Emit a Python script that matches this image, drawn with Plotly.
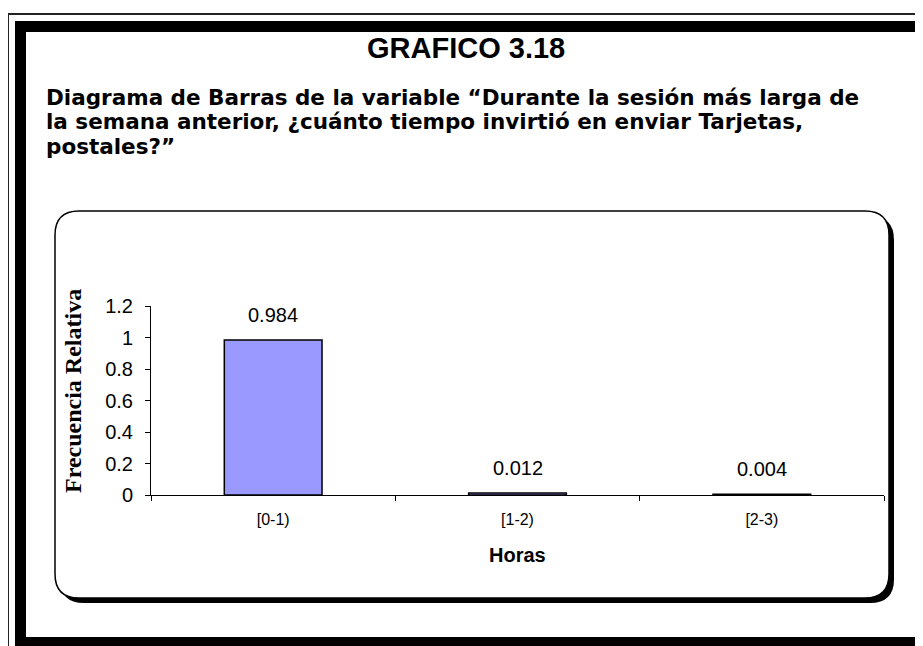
import plotly.graph_objects as go

# page body has an 8px margin, so the figure is laid out in page pixels minus 8
OFF = 8
W, H = 923 - OFF, 646 - OFF

categories = ["[0-1)", "[1-2)", "[2-3)"]
frecuencia = [0.984, 0.012, 0.004]
etiquetas = ["0.984", "0.012", "0.004"]
y_ticks = [0, 0.2, 0.4, 0.6, 0.8, 1.0, 1.2]
y_tick_text = ["0", "0.2", "0.4", "0.6", "0.8", "1", "1.2"]

titulo = "GRAFICO 3.18"
subtitulo = [
    "Diagrama de Barras de la variable “Durante la sesión más larga de",
    "la semana anterior, ¿cuánto tiempo invirtió en enviar Tarjetas,",
    "postales?”",
]


def px(x):
    return (x - OFF) / W


def py(y):
    return 1 - (y - OFF) / H


def rounded_rect(x0, y0, x1, y1, r):
    pts = [
        f"M {px(x0 + r)},{py(y0)}",
        f"L {px(x1 - r)},{py(y0)}",
        f"Q {px(x1)},{py(y0)} {px(x1)},{py(y0 + r)}",
        f"L {px(x1)},{py(y1 - r)}",
        f"Q {px(x1)},{py(y1)} {px(x1 - r)},{py(y1)}",
        f"L {px(x0 + r)},{py(y1)}",
        f"Q {px(x0)},{py(y1)} {px(x0)},{py(y1 - r)}",
        f"L {px(x0)},{py(y0 + r)}",
        f"Q {px(x0)},{py(y0)} {px(x0 + r)},{py(y0)}",
        "Z",
    ]
    return " ".join(pts)


ARIAL = "Arial, Liberation Sans, sans-serif"

fig = go.Figure()
fig.add_trace(go.Bar(
    x=categories, y=frecuencia, width=0.4,
    marker=dict(color="#9999FF", line=dict(color="black", width=1.5)),
    hoverinfo="x+y", showlegend=False,
))

shapes = [
    # outer frame, thin then thick
    dict(type="rect", xref="paper", yref="paper", x0=px(8), y0=py(14), x1=px(960), y1=py(680),
         line=dict(color="#222", width=2), layer="below"),
    dict(type="rect", xref="paper", yref="paper", x0=px(20.5), y0=py(26.5), x1=px(924.5), y1=py(642.5),
         line=dict(color="black", width=11), layer="below"),
    # chart area with shadow
    dict(type="path", xref="paper", yref="paper", path=rounded_rect(60, 216, 894, 603, 24),
         fillcolor="black", line=dict(color="black", width=0), layer="below"),
    dict(type="path", xref="paper", yref="paper", path=rounded_rect(55, 211, 889, 598, 24),
         fillcolor="white", line=dict(color="black", width=1.5), layer="below"),
]

annotations = [
    dict(text=f"<b>{titulo}</b>", x=px(466), y=py(48), xref="paper", yref="paper",
         xanchor="center", yanchor="middle", showarrow=False,
         font=dict(family=ARIAL, size=29, color="black")),
    dict(text="<b>Frecuencia Relativa</b>", x=px(73), y=py(391), xref="paper", yref="paper",
         xanchor="center", yanchor="middle", textangle=-90, showarrow=False,
         font=dict(family="Times New Roman, Liberation Serif, serif", size=24, color="black")),
    dict(text="<b>Horas</b>", x=px(517), y=py(555), xref="paper", yref="paper",
         xanchor="center", yanchor="middle", showarrow=False,
         font=dict(family=ARIAL, size=20, color="black")),
]
for i, linea in enumerate(subtitulo):
    annotations.append(dict(text=f"<b>{linea}</b>", x=px(44), y=py(97 + 25 * i),
                            xref="paper", yref="paper", xanchor="left", yanchor="middle",
                            showarrow=False,
                            font=dict(family="DejaVu Sans, sans-serif", size=21.5, color="black")))
for cat, val, lab in zip(categories, frecuencia, etiquetas):
    annotations.append(dict(text=lab, x=cat, y=val, xref="x", yref="y", yshift=25,
                            xanchor="center", yanchor="middle", showarrow=False,
                            font=dict(family=ARIAL, size=20, color="black")))

fig.update_layout(
    width=W, height=H,
    margin=dict(l=0, r=0, t=0, b=0),
    paper_bgcolor="white", plot_bgcolor="rgba(0,0,0,0)",
    shapes=shapes, annotations=annotations,
    xaxis=dict(domain=[px(151), px(884)], showline=True, linecolor="black", linewidth=1,
               ticks="outside", tickson="boundaries", ticklen=5, tickcolor="black",
               showgrid=False, zeroline=False, automargin=False, ticklabelstandoff=10,
               tickfont=dict(family=ARIAL, size=16, color="black")),
    yaxis=dict(domain=[py(495), py(306)], range=[0, 1.2], showline=True, linecolor="black",
               linewidth=1, ticks="outside", ticklen=5, tickcolor="black",
               tickvals=y_ticks, ticktext=y_tick_text, showgrid=False, zeroline=False,
               automargin=False, ticklabelstandoff=8,
               tickfont=dict(family=ARIAL, size=20, color="black")),
)

fig.write_html("out.html")
